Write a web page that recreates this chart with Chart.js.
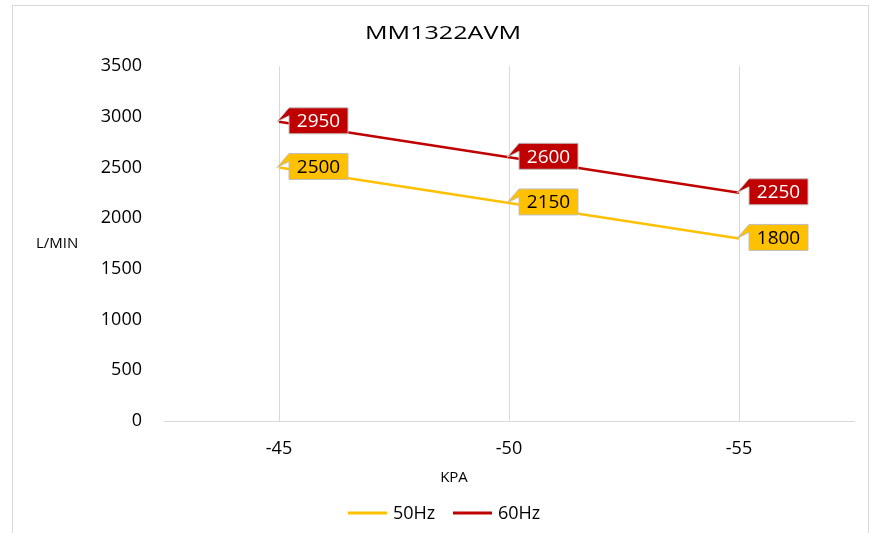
<!DOCTYPE html>
<html>
<head>
<meta charset="utf-8">
<script src="https://cdn.jsdelivr.net/npm/chart.js@4"></script>
<style>
  html, body { margin: 0; padding: 0; background: #fff; }
  #wrap { position: relative; width: 878px; height: 533px; }
  #frame { position: absolute; left: 12px; top: 5px; width: 855px; height: 540px; border: 1px solid #d9d9d9; pointer-events: none; }
</style>
</head>
<body>
<div id="wrap">
  <canvas id="chart" width="878" height="533"></canvas>
  <div id="frame"></div>
</div>
<script>
// Datos
const categories = ["-45", "-50", "-55"]
const hz50 = [2500, 2150, 1800]
const hz60 = [2950, 2600, 2250]
const yMin = 0
const yMax = 3500
const yStep = 500

const FONT = "'Open Sans', sans-serif"
const YELLOW = "#FFC000"
const RED = "#C00000"

// Etiquetas tipo "llamada" junto a cada punto
const calloutPlugin = {
  id: "callouts",
  afterDatasetsDraw(chart) {
    const ctx = chart.ctx
    chart.data.datasets.forEach((ds, i) => {
      const meta = chart.getDatasetMeta(i)
      meta.data.forEach((pt, j) => {
        const x = pt.x
        const y = pt.y
        const bx = x + 10
        const by = y - 14
        const bw = 59
        const bh = 26
        ctx.save()
        ctx.fillStyle = ds.borderColor
        ctx.strokeStyle = "#bfbfbf"
        ctx.lineWidth = 1
        ctx.beginPath()
        ctx.moveTo(x - 2, y)
        ctx.lineTo(bx, by)
        ctx.lineTo(bx + bw, by)
        ctx.lineTo(bx + bw, by + bh)
        ctx.lineTo(bx, by + bh)
        ctx.lineTo(bx, by + 8)
        ctx.closePath()
        ctx.fill()
        ctx.stroke()
        ctx.fillStyle = ds.labelColor
        ctx.font = "19px " + FONT
        ctx.textAlign = "center"
        ctx.textBaseline = "middle"
        ctx.fillText(String(ds.data[j]), bx + bw / 2, by + bh / 2 + 1)
        ctx.restore()
      })
    })
  },
}

// Título, títulos de ejes y leyenda
const textPlugin = {
  id: "texts",
  afterDraw(chart) {
    const ctx = chart.ctx
    ctx.save()
    ctx.fillStyle = "#000"
    ctx.textBaseline = "middle"
    ctx.textAlign = "center"

    // título, algo ensanchado como en el original
    ctx.font = "19px " + FONT
    const tw = ctx.measureText("MM1322AVM").width
    ctx.save()
    ctx.translate(443, 34)
    ctx.scale(156 / tw, 1)
    ctx.fillText("MM1322AVM", 0, 0)
    ctx.restore()

    ctx.font = "15px " + FONT
    ctx.fillText("KPA", 454, 478)
    ctx.textAlign = "left"
    ctx.fillText("L/MIN", 36, 244)

    // leyenda
    const items = [
      { label: chart.data.datasets[0].label, color: YELLOW, x: 348 },
      { label: chart.data.datasets[1].label, color: RED, x: 453 },
    ]
    items.forEach((it) => {
      ctx.strokeStyle = it.color
      ctx.lineWidth = 3
      ctx.beginPath()
      ctx.moveTo(it.x, 513)
      ctx.lineTo(it.x + 39, 513)
      ctx.stroke()
      ctx.fillStyle = "#000"
      ctx.font = "18px " + FONT
      ctx.fillText(it.label, it.x + 45, 514)
    })
    ctx.restore()
  },
}

document.addEventListener("DOMContentLoaded", () => {
  const ctx = document.getElementById("chart").getContext("2d")
  new Chart(ctx, {
    type: "line",
    data: {
      labels: categories,
      datasets: [
        {
          label: "50Hz",
          data: hz50,
          borderColor: YELLOW,
          labelColor: "#000",
          borderWidth: 2.5,
          pointRadius: 0,
          tension: 0,
        },
        {
          label: "60Hz",
          data: hz60,
          borderColor: RED,
          labelColor: "#fff",
          borderWidth: 2.5,
          pointRadius: 0,
          tension: 0,
        },
      ],
    },
    options: {
      responsive: false,
      animation: false,
      layout: {
        padding: { top: 66, left: 0, right: 24, bottom: 72 },
      },
      plugins: {
        legend: { display: false },
        title: { display: false },
        tooltip: { enabled: false },
      },
      scales: {
        x: {
          offset: true,
          afterFit: (scale) => { scale.height = 40 },
          grid: { offset: false, color: "#d9d9d9", drawTicks: false },
          border: { color: "#d9d9d9", width: 1 },
          ticks: { color: "#000", padding: 17, maxRotation: 0, autoSkip: false, font: { family: FONT, size: 18 } },
        },
        y: {
          min: yMin,
          max: yMax,
          afterFit: (scale) => { scale.width = 164 },
          grid: { display: false, drawTicks: false },
          border: { display: false },
          ticks: {
            stepSize: yStep,
            color: "#000",
            padding: 22,
            font: { family: FONT, size: 18 },
            callback: (value) => String(value),
          },
        },
      },
    },
    plugins: [calloutPlugin, textPlugin],
  })
})
</script>
</body>
</html>
